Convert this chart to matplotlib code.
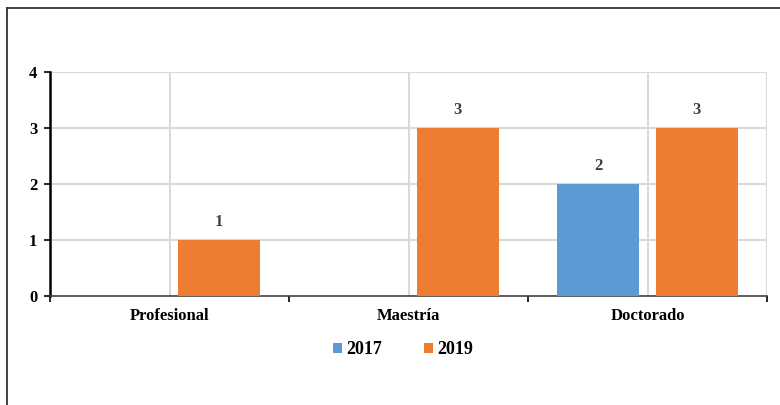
import matplotlib.pyplot as plt
import numpy as np

categories = ['Profesional', 'Maestría', 'Doctorado']
series_names = ['2017', '2019']
values_2017 = [0, 0, 2]
values_2019 = [1, 3, 3]
y_ticks = [0, 1, 2, 3, 4]

color_2017 = '#5b9bd5'
color_2019 = '#ed7d31'

plt.rcParams['font.family'] = ['Liberation Serif', 'DejaVu Serif']
plt.rcParams['font.weight'] = 'bold'

fig = plt.figure(figsize=(7.8, 4.05), dpi=100)
ax = fig.add_axes([50 / 780, 1 - 296 / 405, 717 / 780, 224 / 405])

x = np.arange(len(categories))
width = 0.343
offset = 0.207

b1 = ax.bar(x - offset, values_2017, width, color=color_2017, label=series_names[0], zorder=3)
b2 = ax.bar(x + offset, values_2019, width, color=color_2019, label=series_names[1], zorder=3)

# data labels (skip zero bars)
for bars, vals in ((b1, values_2017), (b2, values_2019)):
    for bar, v in zip(bars, vals):
        if v > 0:
            ax.text(bar.get_x() + bar.get_width() / 2, v + 0.18, str(v),
                    ha='center', va='bottom', fontsize=12, fontweight='bold',
                    color='#404040')

ax.set_xlim(-0.5, 2.5)
ax.set_ylim(0, 4)
ax.set_yticks(y_ticks)
ax.tick_params(axis='y', labelsize=12, length=4, width=1.2, pad=5, colors='black')

# category boundaries as ticks, labels at centres
ax.set_xticks([-0.5, 0.5, 1.5, 2.5])
ax.set_xticklabels([])
ax.set_xticks(x, minor=True)
ax.set_xticklabels(categories, minor=True, fontsize=12, fontweight='bold')
ax.tick_params(axis='x', which='major', length=4, width=1.2)
ax.tick_params(axis='x', which='minor', length=0, pad=9)

ax.grid(False)
for yv in y_ticks[1:]:
    ax.axhline(yv, color='#d9d9d9', lw=1.5, zorder=1)
for xv in list(x) + [2.5]:
    ax.axvline(xv, color='#d9d9d9', lw=1.5, zorder=1)

ax.spines['top'].set_visible(False)
ax.spines['right'].set_visible(False)
ax.spines['left'].set_linewidth(1.8)
ax.spines['bottom'].set_linewidth(1.2)
ax.spines['bottom'].set_color('#404040')

leg = fig.legend(handles=[b1, b2], loc='center', bbox_to_anchor=(403 / 780, 1 - 350 / 405),
                 ncol=2, frameon=False, prop={'size': 13, 'weight': 'bold'},
                 handlelength=0.5, handleheight=0.5, columnspacing=2.3, handletextpad=0.25)

# outer border of the chart area
fig.add_artist(plt.Line2D([7 / 780, 7 / 780], [0, 1 - 8 / 405], color='#333333', lw=1.3))
fig.add_artist(plt.Line2D([7 / 780, 1], [1 - 8 / 405, 1 - 8 / 405], color='#333333', lw=1.3))

fig.savefig('out.png', dpi=100)
